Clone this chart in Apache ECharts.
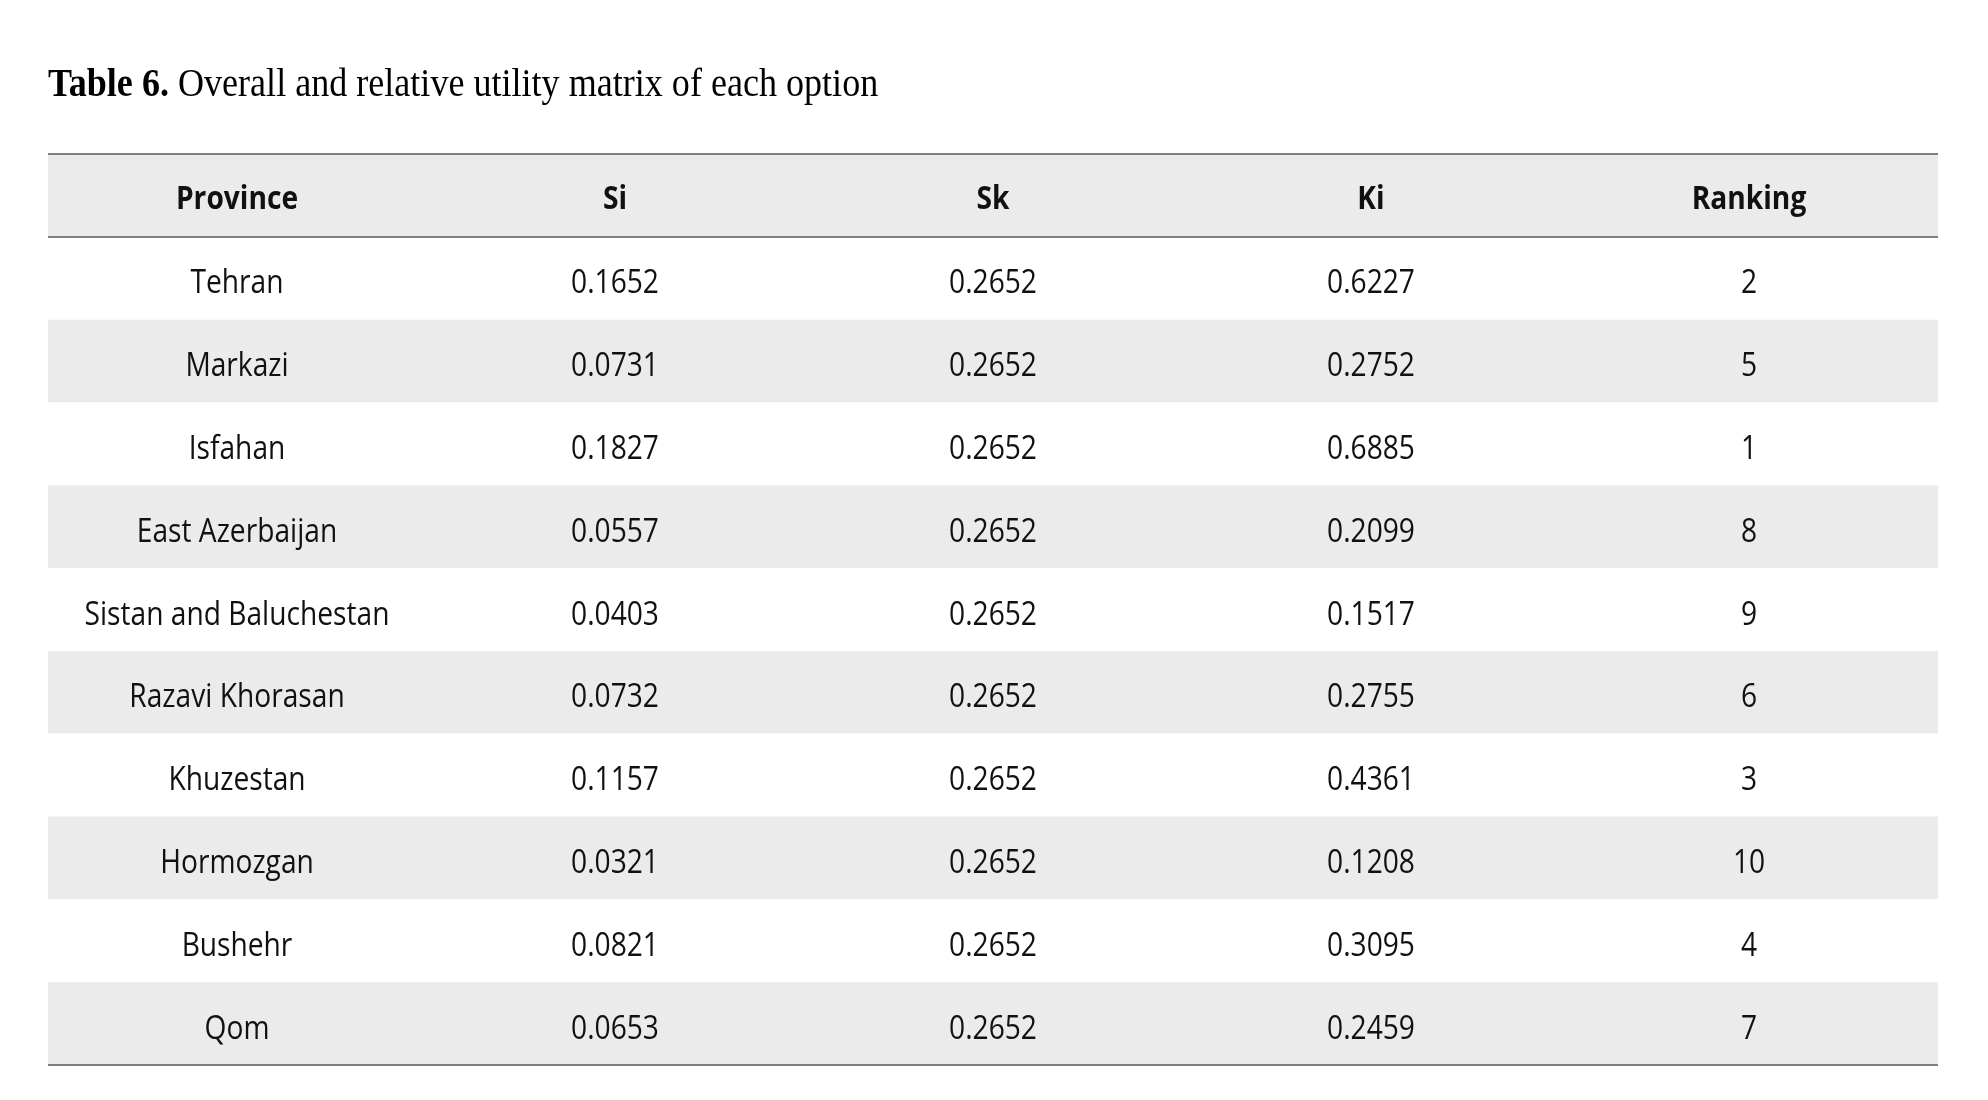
<!DOCTYPE html>
<html>
<head>
<meta charset="utf-8">
<title>Table 6</title>
<script src="https://cdn.jsdelivr.net/npm/echarts@6/dist/echarts.min.js"></script>
<style>
  html, body { margin: 0; padding: 0; background: #fff; }
  #main { width: 1988px; height: 1100px; }
</style>
</head>
<body>
<div id="main"></div>
<script>
// table contents
var columns = ['Province', 'Si', 'Sk', 'Ki', 'Ranking'];
var provinces = ['Tehran', 'Markazi', 'Isfahan', 'East Azerbaijan', 'Sistan and Baluchestan',
                 'Razavi Khorasan', 'Khuzestan', 'Hormozgan', 'Bushehr', 'Qom'];
var si = [0.1652, 0.0731, 0.1827, 0.0557, 0.0403, 0.0732, 0.1157, 0.0321, 0.0821, 0.0653];
var sk = [0.2652, 0.2652, 0.2652, 0.2652, 0.2652, 0.2652, 0.2652, 0.2652, 0.2652, 0.2652];
var ki = [0.6227, 0.2752, 0.6885, 0.2099, 0.1517, 0.2755, 0.4361, 0.1208, 0.3095, 0.2459];
var ranking = [2, 5, 1, 8, 9, 6, 3, 10, 4, 7];

var rowCount = provinces.length + 1; // header + rows

// cells: [x, y, text, isHeader]
var cells = [];
columns.forEach(function (name, c) {
    cells.push([c + 0.5, 0.5, name, 1]);
});
provinces.forEach(function (p, r) {
    var y = r + 1.5;
    cells.push([0.5, y, p, 0]);
    cells.push([1.5, y, si[r].toFixed(4), 0]);
    cells.push([2.5, y, sk[r].toFixed(4), 0]);
    cells.push([3.5, y, ki[r].toFixed(4), 0]);
    cells.push([4.5, y, String(ranking[r]), 0]);
});

var dom = document.getElementById('main');
var myChart = echarts.init(dom);

myChart.setOption({
    animation: false,
    backgroundColor: '#ffffff',
    graphic: [
        {
            type: 'text',
            x: 48,
            y: 86,
            scaleX: 0.925,
            style: {
                text: '{b|Table 6.} Overall and relative utility matrix of each option',
                font: '39px "Liberation Serif", "Times New Roman", serif',
                fill: '#000',
                verticalAlign: 'middle',
                rich: {
                    b: {
                        fontWeight: 'bold',
                        fontSize: 39,
                        fontFamily: '"Liberation Serif", "Times New Roman", serif',
                        fill: '#000'
                    }
                }
            }
        }
    ],
    grid: {
        left: 48,
        right: 50,
        top: 154,
        bottom: 35
    },
    xAxis: {
        type: 'value',
        min: 0,
        max: columns.length,
        interval: 1,
        axisLine: { show: false },
        axisTick: { show: false },
        axisLabel: { show: false },
        splitLine: { show: false }
    },
    yAxis: {
        type: 'value',
        min: 0,
        max: rowCount,
        interval: 1,
        inverse: true,
        axisLine: { show: false },
        axisTick: { show: false },
        axisLabel: { show: false },
        splitLine: { show: false },
        splitArea: {
            show: true,
            areaStyle: { color: ['#ebebeb', '#ffffff'] }
        }
    },
    series: [
        {
            type: 'custom',
            silent: true,
            data: cells,
            renderItem: function (params, api) {
                var pt = api.coord([api.value(0), api.value(1)]);
                var header = api.value(3) === 1;
                return {
                    type: 'text',
                    x: pt[0],
                    y: pt[1] + (header ? 4 : 6),
                    scaleX: 0.88,
                    style: {
                        text: api.value(2),
                        font: (header ? 'bold ' : '') + '32px "Open Sans", "Noto Sans", sans-serif',
                        fill: '#111',
                        align: 'center',
                        verticalAlign: 'middle'
                    }
                };
            },
            markLine: {
                silent: true,
                symbol: ['none', 'none'],
                label: { show: false },
                lineStyle: { color: '#7f7f7f', width: 2, type: 'solid' },
                data: [{ yAxis: 0 }, { yAxis: 1 }, { yAxis: rowCount }]
            }
        }
    ]
});

window.addEventListener('resize', function () {
    myChart.resize();
});
</script>
</body>
</html>
